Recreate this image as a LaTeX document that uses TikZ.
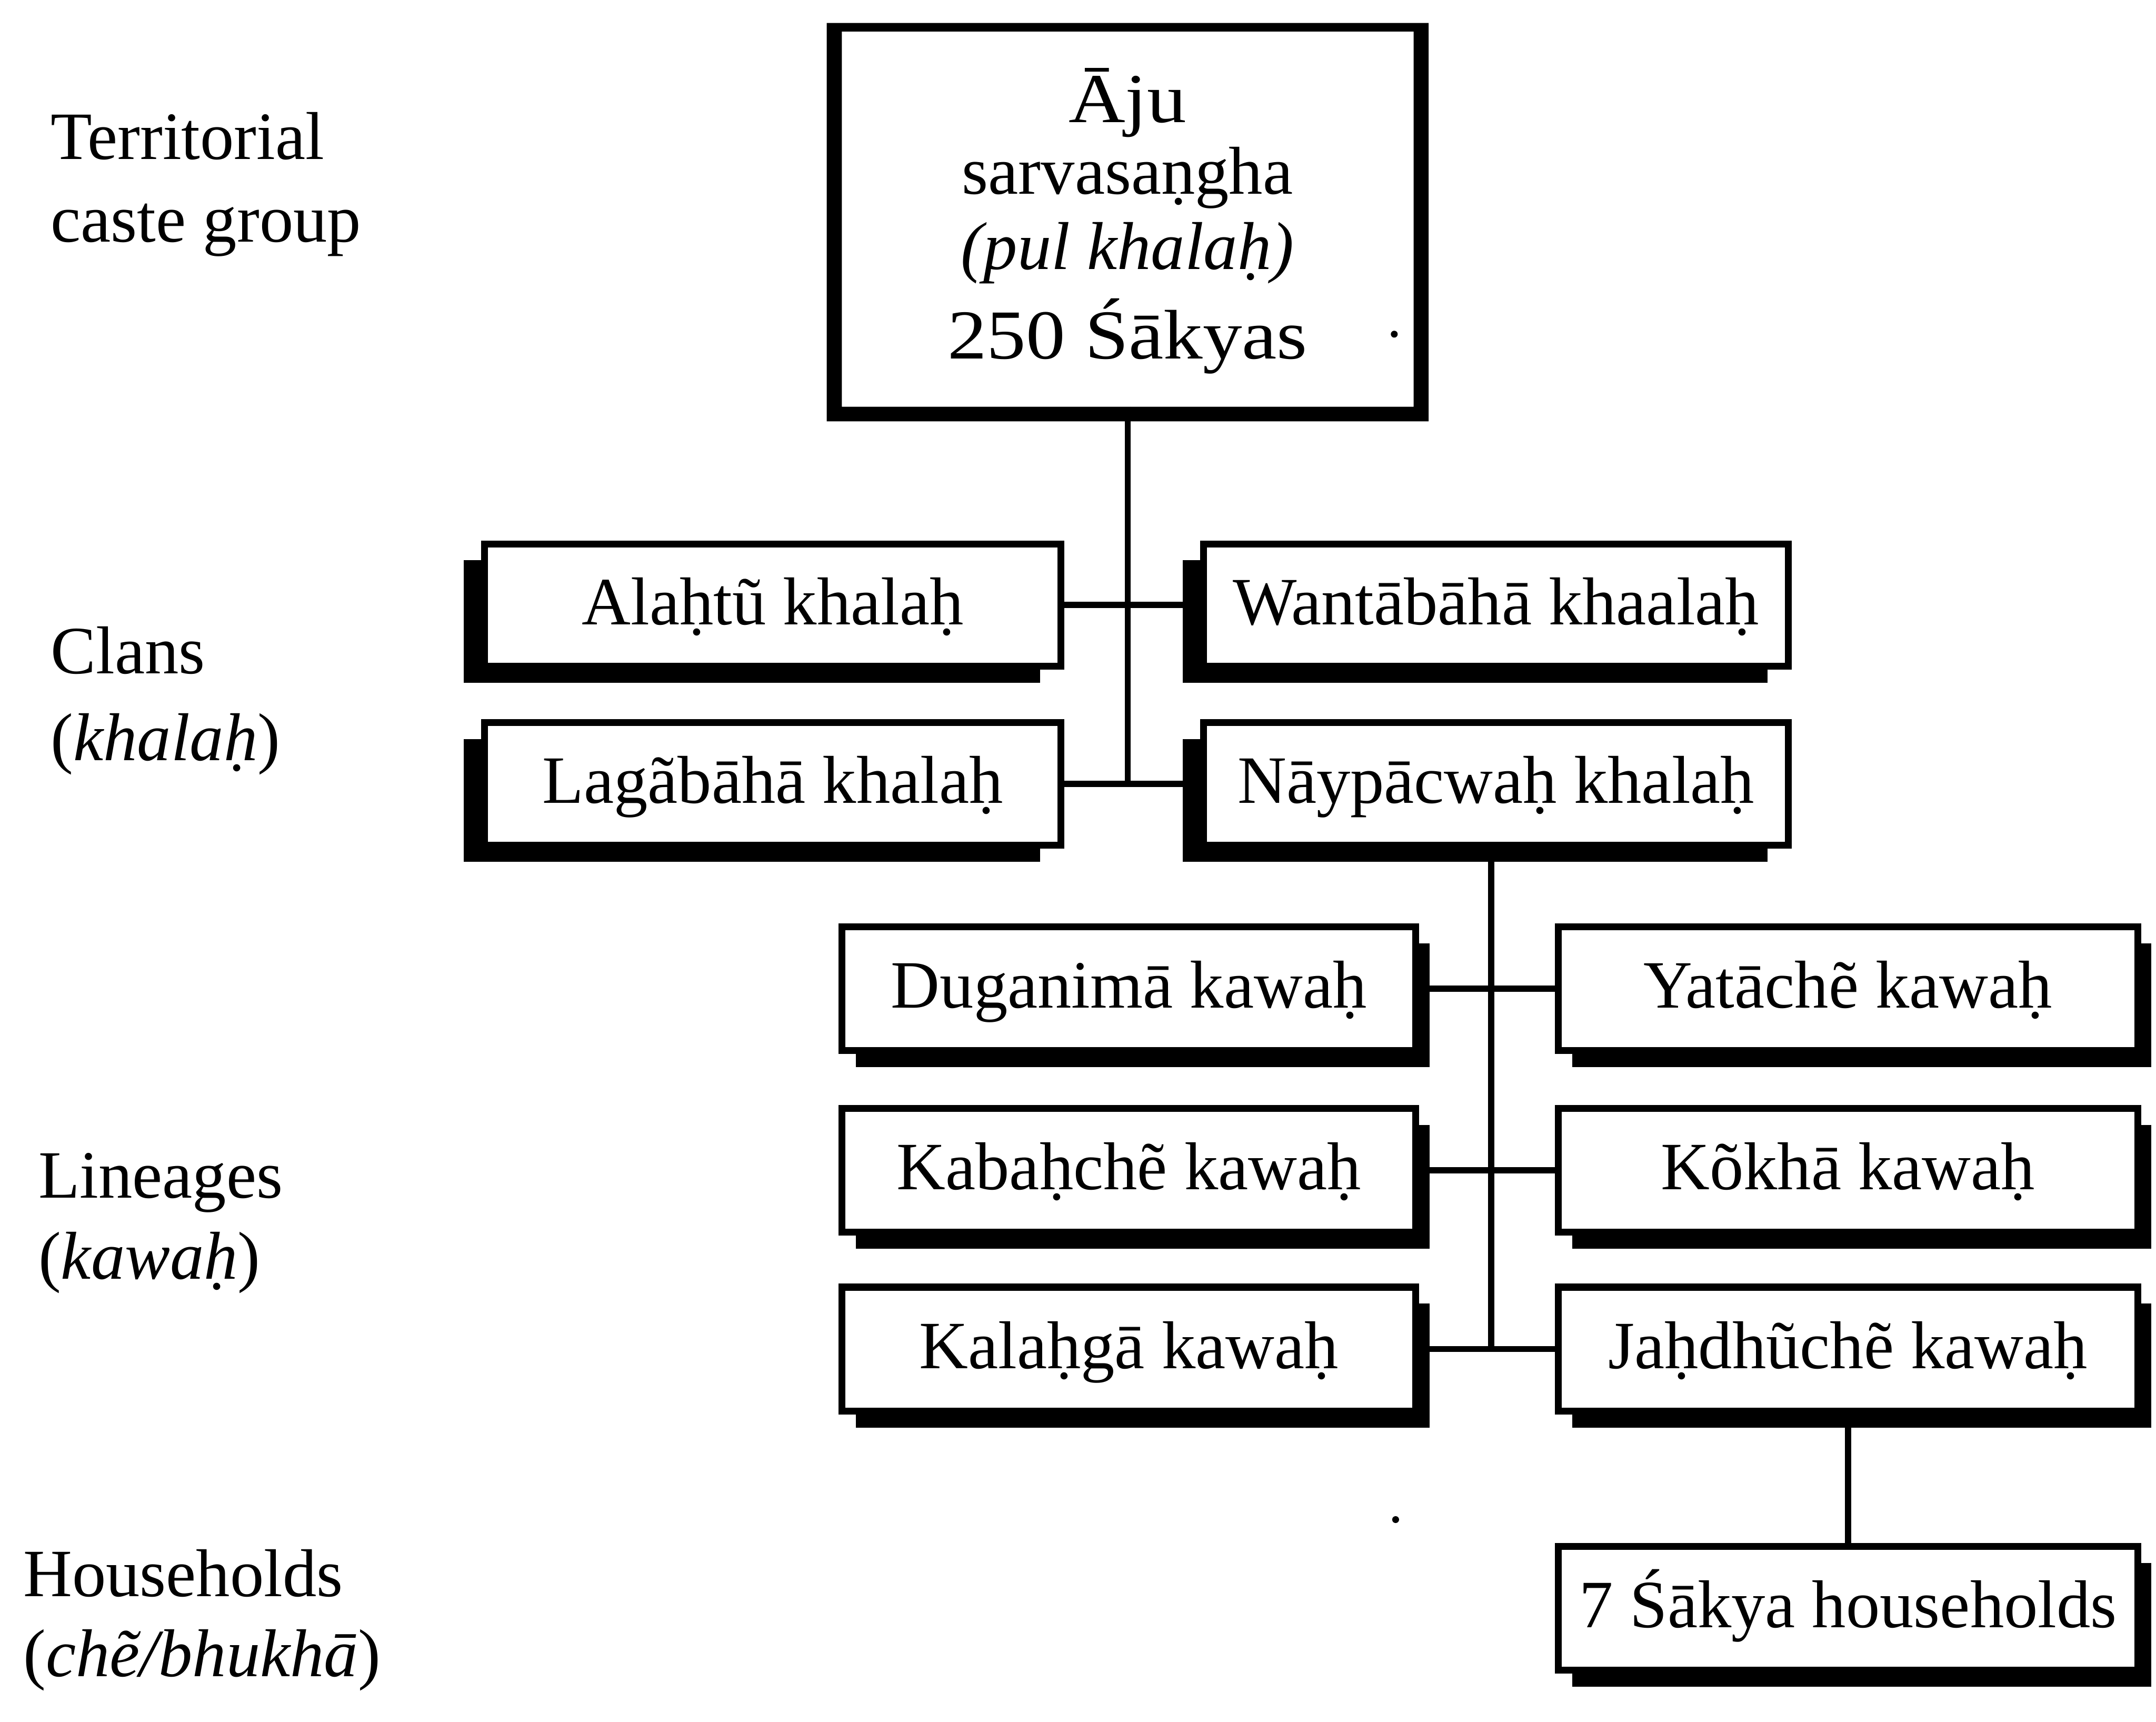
\documentclass[tikz,border=0pt]{standalone}
\usepackage{graphicx}
\usepackage{fontspec}
\setmainfont{Liberation Serif}
\usetikzlibrary{shadows}
\begin{document}
\begin{tikzpicture}[x=0.01cm,y=-0.01cm,
  every node/.style={inner sep=0pt,outer sep=0pt},
  txt/.style={font=\fontsize{14}{17}\selectfont},
  lab/.style={txt,anchor=base west},
  inbox/.style={txt,anchor=base},
  box/.style={draw,line width=0.05cm,fill=white,txt,text height=10.5pt,text depth=2.5pt,minimum height=0.89cm},
  clan/.style={box,drop shadow={shadow xshift=-0.15cm,shadow yshift=-0.12cm,fill=black,opacity=1}},
  lineage/.style={box,minimum height=0.90cm,drop shadow={shadow xshift=0.10cm,shadow yshift=-0.12cm,fill=black,opacity=1}},
  link/.style={line width=0.045cm}
]
\useasboundingbox (0,0) rectangle (1568,1252);

% level labels on the left
\node[lab] (l1a) at (37,116) {Territorial};
\node[lab] (l1b) at (37,176) {caste group};
\node[lab] (l2a) at (37,490) {Clans};
\node[lab] (l2b) at (37,553) {(\textit{khalaḥ})};
\node[lab] (l3a) at (28,871) {Lineages};
\node[lab] (l3b) at (28,930) {(\textit{kawaḥ})};
\node[lab] (l4a) at (17,1161) {Households};
\node[lab] (l4b) at (17,1219) {(\textit{chẽ/bhukhā})};

% caste group box with heavy frame
\node[fill=white,minimum width=4.156cm,minimum height=2.727cm] (agg) at (820.2,159.35) {};
\fill[even odd rule]
  ([xshift=-0.11cm,yshift=0.062cm]agg.north west) rectangle ([xshift=0.109cm,yshift=-0.106cm]agg.south east)
  (agg.north west) rectangle (agg.south east);
\node[inbox,font=\fontsize{14.5}{17}\selectfont] (aju) at (820,89) {\scalebox{1.12}[1]{Āju}};
\node[inbox] (sarva) at (820,141) {sarvasaṇgha};
\node[inbox] (pul) at (820,196) {\itshape (pul khalaḥ)};
\node[inbox,font=\fontsize{14.5}{17}\selectfont] (count) at (820,261) {\scalebox{1.12}[1]{250 Śākyas}};

% clans
\node[clan,minimum width=4.19cm] (alah) at (562,440) {Alaḥtũ khalaḥ};
\node[clan,minimum width=4.25cm] (want) at (1088,440) {Wantābāhā khaalaḥ};
\node[clan,minimum width=4.19cm] (laga) at (562,570) {Lagãbāhā khalaḥ};
\node[clan,minimum width=4.25cm] (nayp) at (1088,570) {Nāypācwaḥ khalaḥ};

% lineages
\node[lineage,minimum width=4.17cm] (dugan) at (821,719) {Duganimā kawaḥ};
\node[lineage,minimum width=4.21cm] (yata) at (1344,719) {Yatāchẽ kawaḥ};
\node[lineage,minimum width=4.17cm] (kabah) at (821,851) {Kabaḥchẽ kawaḥ};
\node[lineage,minimum width=4.21cm] (kokha) at (1344,851) {Kõkhā kawaḥ};
\node[lineage,minimum width=4.17cm] (kalah) at (821,981) {Kalaḥgā kawaḥ};
\node[lineage,minimum width=4.21cm] (jahd) at (1344,981) {Jaḥdhũchẽ kawaḥ};

% households
\node[lineage,minimum width=4.21cm] (house) at (1344,1169.5) {7 Śākya households};

% connectors
\draw[link] (agg.south) -- (agg.south |- laga.east);
\draw[link] (alah.east) -- (want.west);
\draw[link] (laga.east) -- (nayp.west);
\coordinate (trunk) at (1084.5,981);
\draw[link] (nayp.south -| trunk) -- (trunk);
\draw[link] (dugan.east) -- (yata.west);
\draw[link] (kabah.east) -- (kokha.west);
\draw[link] (kalah.east) -- (jahd.west);
\draw[link] (jahd.south) -- (house.north);

% small specks
\fill (1014,243) circle (0.025cm);
\fill (1015,1105) circle (0.025cm);
\end{tikzpicture}
\end{document}
